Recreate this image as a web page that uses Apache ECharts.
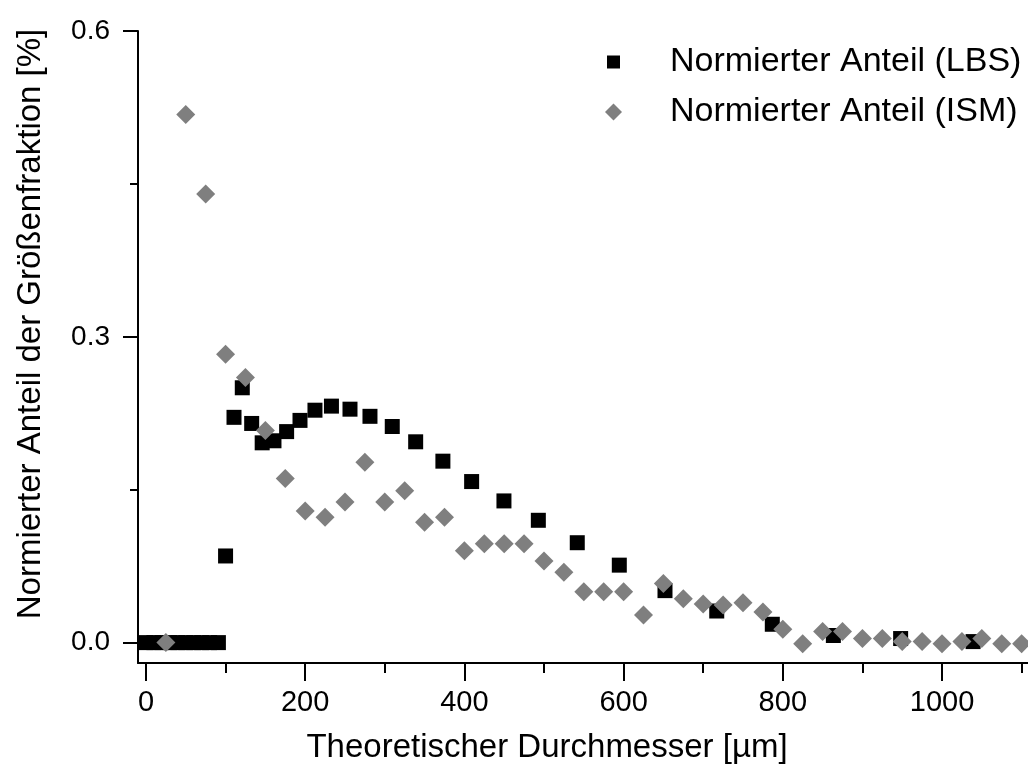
<!DOCTYPE html>
<html>
<head>
<meta charset="utf-8">
<script src="https://cdn.jsdelivr.net/npm/echarts@6/dist/echarts.min.js"></script>
<style>
html,body{margin:0;padding:0;background:#fff;}
#main{width:1028px;height:774px;}
</style>
</head>
<body>
<div id="main"></div>
<script>
// LBS (squares)
const lbsX = [0, 10, 20, 30, 40, 50, 60, 70, 80, 91, 100, 110.6, 121, 132.8, 146, 160.8, 176.7, 193.5, 212.3, 233, 256.3, 281.4, 309.4, 338.8, 373, 409.1, 449.7, 492.9, 541.8, 594.6, 652, 717, 786.8, 863.5, 948, 1039];
const lbsY = [0, 0, 0, 0, 0, 0, 0, 0, 0, 0, 0.085, 0.221, 0.25, 0.215, 0.196, 0.198, 0.207, 0.218, 0.228, 0.232, 0.229, 0.222, 0.212, 0.197, 0.178, 0.158, 0.139, 0.12, 0.098, 0.076, 0.051, 0.031, 0.018, 0.007, 0.004, 0.001];
// ISM (diamonds)
const ismX = [25, 50, 75, 100, 125, 150, 175, 200, 225, 250, 275, 300, 325, 350, 375, 400, 425, 450, 475, 500, 525, 550, 575, 600, 625, 650, 675, 700, 725, 750, 775, 800, 825, 850, 875, 900, 925, 950, 975, 1000, 1025, 1050, 1075, 1100];
const ismY = [0, 0.518, 0.44, 0.283, 0.26, 0.208, 0.161, 0.129, 0.123, 0.138, 0.177, 0.138, 0.149, 0.118, 0.123, 0.09, 0.097, 0.097, 0.097, 0.08, 0.069, 0.05, 0.05, 0.05, 0.027, 0.058, 0.043, 0.038, 0.037, 0.039, 0.03, 0.013, -0.001, 0.011, 0.011, 0.004, 0.004, 0.001, 0.001, -0.001, 0.001, 0.004, -0.001, -0.001];
// ticks
const xMajorTicks = [0, 200, 400, 600, 800, 1000];
const xMinorTicks = [100, 300, 500, 700, 900, 1100];
const yMajorTicks = [0, 0.3, 0.6];
const yMinorTicks = [0.15, 0.45];
const nameLBS = 'Normierter Anteil (LBS)';
const nameISM = 'Normierter Anteil (ISM)';
const xTitle = 'Theoretischer Durchmesser [µm]';
const yTitle = 'Normierter Anteil der Größenfraktion [%]';

const FONT = 'Liberation Sans';
const chart = echarts.init(document.getElementById('main'), null, {renderer: 'canvas'});
const xRange = {min: -10, max: 1108};
const yRange = {min: -0.02, max: 0.6};

chart.setOption({
  backgroundColor: '#ffffff',
  animation: false,
  grid: {left: 138, right: 0, top: 31, bottom: 111, containLabel: false},
  legend: [
    {
      data: [{name: nameLBS, icon: 'rect'}],
      selectedMode: false, orient: 'vertical', left: 607, top: 45, padding: 0,
      itemWidth: 13, itemHeight: 13,
      itemStyle: {opacity: 1},
      textStyle: {fontFamily: FONT, fontSize: 34, color: '#000', padding: [0, 0, 0, 45]}
    },
    {
      data: [{name: nameISM, icon: 'diamond'}],
      selectedMode: false, orient: 'vertical', left: 605, top: 95, padding: 0,
      itemWidth: 17, itemHeight: 17,
      itemStyle: {opacity: 1},
      textStyle: {fontFamily: FONT, fontSize: 34, color: '#000', padding: [0, 0, 0, 43]}
    }
  ],
  xAxis: [
    {
      type: 'value', position: 'bottom', min: xRange.min, max: xRange.max,
      name: xTitle, nameLocation: 'middle', nameGap: 68,
      nameTextStyle: {fontFamily: FONT, fontSize: 33, color: '#000', padding: [0, 72, 0, 0]},
      axisLine: {show: true, onZero: false, lineStyle: {color: '#000', width: 2}},
      axisTick: {show: true, customValues: xMajorTicks, length: 18, lineStyle: {color: '#000', width: 2}},
      axisLabel: {show: true, customValues: xMajorTicks, margin: 25, fontFamily: FONT, fontSize: 29, color: '#000',
        formatter: v => String(v)},
      splitLine: {show: false}
    },
    {
      type: 'value', position: 'bottom', min: xRange.min, max: xRange.max,
      axisLine: {show: false, onZero: false},
      axisTick: {show: true, customValues: xMinorTicks, length: 10, lineStyle: {color: '#000', width: 2}},
      axisLabel: {show: false},
      splitLine: {show: false}
    }
  ],
  yAxis: [
    {
      type: 'value', position: 'left', min: yRange.min, max: yRange.max,
      name: yTitle, nameLocation: 'middle', nameGap: 91, nameRotate: 90,
      nameTextStyle: {fontFamily: FONT, fontSize: 33, color: '#000', padding: [0, 0, 0, 46]},
      axisLine: {show: true, onZero: false, lineStyle: {color: '#000', width: 2}},
      axisTick: {show: true, customValues: yMajorTicks, length: 15, lineStyle: {color: '#000', width: 2}},
      axisLabel: {show: true, customValues: yMajorTicks, margin: 28, fontFamily: FONT, fontSize: 28, color: '#000',
        formatter: v => v.toFixed(1)},
      splitLine: {show: false}
    },
    {
      type: 'value', position: 'left', min: yRange.min, max: yRange.max,
      axisLine: {show: false, onZero: false},
      axisTick: {show: true, customValues: yMinorTicks, length: 8, lineStyle: {color: '#000', width: 2}},
      axisLabel: {show: false},
      splitLine: {show: false}
    }
  ],
  series: [
    {
      name: nameLBS, type: 'scatter', symbol: 'rect', symbolSize: 15,
      itemStyle: {color: '#000000', opacity: 1},
      data: lbsX.map((x, i) => [x, lbsY[i]]),
      z: 2
    },
    {
      name: nameISM, type: 'scatter', symbol: 'diamond', symbolSize: 19,
      itemStyle: {color: '#7f7f7f', opacity: 1},
      data: ismX.map((x, i) => [x, ismY[i]]),
      z: 3
    }
  ]
});
</script>
</body>
</html>
